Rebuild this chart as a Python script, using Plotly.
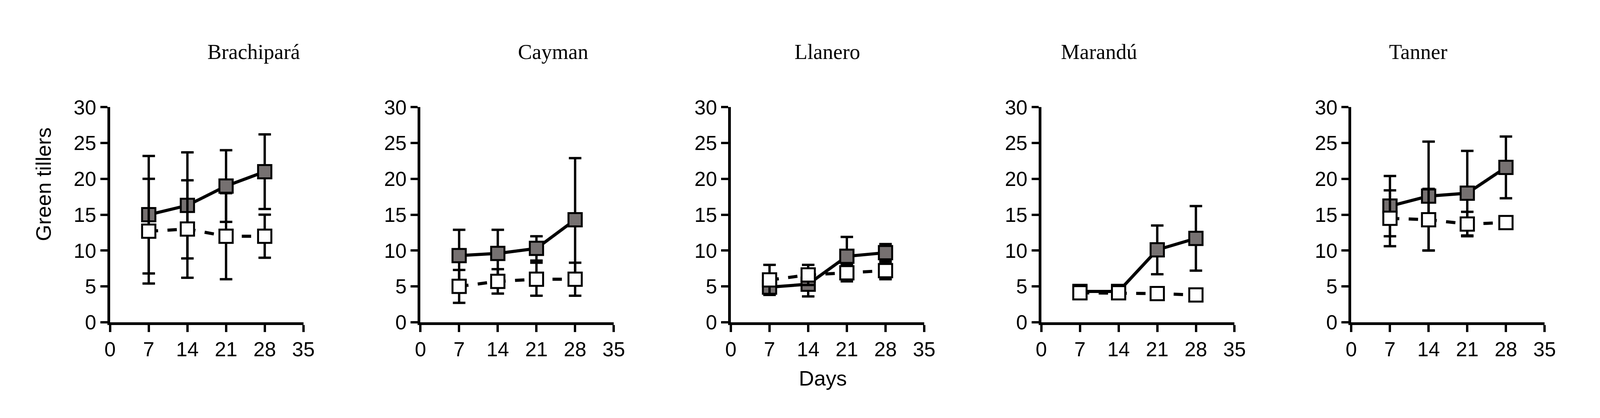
import plotly.graph_objects as go

days = [7, 14, 21, 28]
cultivars = ["Brachipará", "Cayman", "Llanero", "Marandú", "Tanner"]
filled_vals = [[15, 16.3, 19, 21], [9.3, 9.6, 10.3, 14.3], [4.9, 5.3, 9.2, 9.7], [4.3, 4.3, 10.1, 11.7], [16.2, 17.6, 18.0, 21.6]]
filled_err = [[8.2, 7.4, 5.0, 5.2], [3.6, 3.3, 1.7, 8.6], [1.1, 1.7, 2.7, 1.2], [0.5, 0.5, 3.4, 4.5], [4.2, 7.6, 5.9, 4.3]]
open_vals = [[12.7, 13.0, 12.0, 12.0], [5.0, 5.7, 6.0, 6.0], [5.9, 6.6, 6.9, 7.2], [4.1, 4.1, 4.0, 3.8], [14.5, 14.3, 13.7, 13.9]]
open_err = [[7.3, 6.8, 6.0, 3.0], [2.3, 1.7, 2.3, 2.3], [2.1, 1.4, 1.2, 1.2], [0.5, 0.5, 0.5, 0.5], [3.9, 4.3, 1.7, 0.5]]

W, H = 4259, 1070
lefts = [273, 1108, 1943, 2778, 3612]
pw = 520
fig = go.Figure()
for i, name in enumerate(cultivars):
    xa = "x" if i == 0 else f"x{i+1}"
    ya = "y" if i == 0 else f"y{i+1}"
    for vals, errs, fillc, dash in [(filled_vals[i], filled_err[i], "#767171", "solid"),
                                     (open_vals[i], open_err[i], "white", "dash")]:
        fig.add_trace(go.Scatter(
            x=days, y=vals, xaxis=xa, yaxis=ya, mode="lines+markers", showlegend=False,
            line=dict(color="black", width=8, dash=dash),
            marker=dict(symbol="square", size=34, color=fillc, line=dict(color="black", width=5)),
            error_y=dict(type="data", array=errs, visible=True, color="black", thickness=6, width=16),
            cliponaxis=False))
    d0 = lefts[i] / W
    d1 = (lefts[i] + pw) / W
    ax = dict(showline=True, linecolor="black", linewidth=7, ticks="outside", ticklen=18,
              tickwidth=6, tickcolor="black", showgrid=False, zeroline=False,
              tickfont=dict(family="Liberation Sans", size=52, color="black"))
    fig.layout[("xaxis" if i == 0 else f"xaxis{i+1}")] = dict(
        ax, domain=[d0, d1], range=[0, 35], tickvals=[0, 7, 14, 21, 28, 35], anchor=ya)
    fig.layout[("yaxis" if i == 0 else f"yaxis{i+1}")] = dict(
        ax, domain=[1 - 833 / H, 1 - 251 / H], range=[0, 30], tickvals=[0, 5, 10, 15, 20, 25, 30], anchor=xa)
    fig.add_annotation(text=name, xref="paper", yref="paper", x=(d0 + d1) / 2, y=1 - 68 / H,
                       showarrow=False, font=dict(family="Liberation Serif", size=54, color="black"))

fig.add_annotation(text="Green tillers", xref="paper", yref="paper", x=60 / W, y=1 - 460 / H,
                   textangle=-90, showarrow=False, font=dict(family="Liberation Sans", size=54, color="black"))
fig.add_annotation(text="Days", xref="paper", yref="paper", x=2190 / W, y=1 - 1018 / H,
                   showarrow=False, font=dict(family="Liberation Sans", size=54, color="black"))
fig.update_layout(autosize=True, margin=dict(l=0, r=0, t=0, b=0),
                  plot_bgcolor="white", paper_bgcolor="white")
fig.write_html("out.html", default_width="100vw", default_height="100vh")
